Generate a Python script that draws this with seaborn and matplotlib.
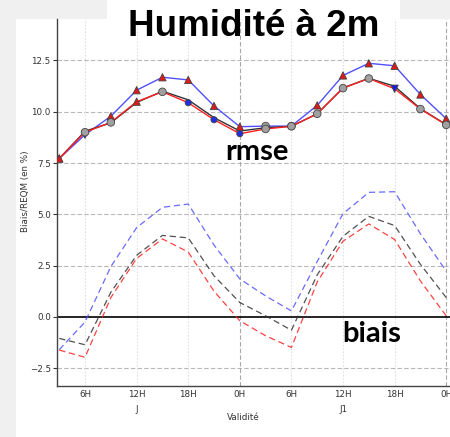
import matplotlib
matplotlib.use("Agg")
import matplotlib.pyplot as plt
from matplotlib.patches import Rectangle
import numpy as np
import pandas as pd
import seaborn as sns

# Forecast lead times (hours) and tick labels
hours = [3, 6, 9, 12, 15, 18, 21, 24, 27, 30, 33, 36, 39, 42, 45, 48]
tick_hours = [6, 12, 18, 24, 30, 36, 42, 48]
tick_labels = ["6H", "12H", "18H", "0H", "6H", "12H", "18H", "0H"]
day_labels = ["J", "J1"]
day_positions = [12, 36]

# RMSE (%) for the three experiments
rmse_blue = [7.72, 8.88, 9.78, 11.05, 11.68, 11.55, 10.28, 9.27,
             9.30, 9.30, 10.31, 11.77, 12.36, 12.24, 10.84, 9.66]
rmse_black = [7.72, 9.05, 9.46, 10.45, 11.00, 10.58, 9.71, 9.06,
              9.22, 9.29, 9.90, 11.16, 11.63, 11.24, 10.15, 9.37]
rmse_red = [7.72, 9.00, 9.48, 10.49, 10.97, 10.44, 9.61, 8.93,
            9.16, 9.29, 9.90, 11.15, 11.62, 11.12, 10.13, 9.36]

# Significance symbols on the blue and red RMSE curves
sig_blue = ["up", "down", "up", "up", "up", "up", "up", "up",
            "ns", "ns", "up", "up", "up", "up", "up", "up"]
sig_red = ["up", "ns", "ns", "up", "ns", "dot", "dot", "dot",
           "ns", "ns", "ns", "ns", "ns", "down", "ns", "ns"]

# Bias (%) for the three experiments
bias_blue = [-1.60, -0.25, 2.45, 4.35, 5.34, 5.50, 3.50, 1.85,
             1.02, 0.29, 2.70, 5.03, 6.07, 6.10, 4.05, 2.23]
bias_black = [-1.05, -1.36, 1.20, 3.00, 3.97, 3.85, 2.00, 0.70,
              0.05, -0.65, 2.05, 3.93, 4.90, 4.45, 2.56, 0.94]
bias_red = [-1.62, -1.97, 0.94, 2.85, 3.80, 3.16, 1.25, -0.19,
            -0.92, -1.49, 1.70, 3.69, 4.53, 3.77, 1.75, 0.05]

sns.set_style("ticks")
plt.rcParams["font.family"] = ["DejaVu Sans"]

colors = {"blue": "#5050ff", "black": "#333333", "red": "#ff2020"}

rmse_df = pd.DataFrame({
    "h": hours * 3,
    "v": rmse_blue + rmse_black + rmse_red,
    "exp": ["blue"] * 16 + ["black"] * 16 + ["red"] * 16,
})
bias_df = pd.DataFrame({
    "h": hours * 3,
    "v": bias_blue + bias_black + bias_red,
    "exp": ["blue"] * 16 + ["black"] * 16 + ["red"] * 16,
})
sig_df = pd.DataFrame({
    "h": hours * 2,
    "v": rmse_blue + rmse_red,
    "sig": sig_blue + sig_red,
})

fig = plt.figure(figsize=(4.5, 4.37), dpi=100, facecolor="#f0f0f0")
W, H = 450, 437
# white panel and title box
fig.patches.append(Rectangle((16 / W, 0), 1 - 16 / W, (H - 19) / H,
                             transform=fig.transFigure, facecolor="white",
                             edgecolor="none", zorder=-2))
fig.patches.append(Rectangle((107 / W, (H - 42) / H), (400 - 107) / W, 42 / H,
                             transform=fig.transFigure, facecolor="white",
                             edgecolor="none", zorder=-2))

ax = fig.add_axes([57 / W, (H - 386) / H, (450 - 57) / W, (386 - 19) / H])
ax.set_facecolor("white")
ax.patch.set_alpha(0.0)

# grid
for yv in [-2.5, 2.5, 5.0, 7.5, 10.0, 12.5]:
    ax.axhline(yv, color="#b8b8b8", lw=0.8, ls=(0, (4, 2)), zorder=0)
for xv in tick_hours:
    if xv % 24 == 0:
        ax.axvline(xv, color="#a8a8a8", lw=0.8, ls=(0, (4, 2)), zorder=0)
    else:
        ax.axvline(xv, color="#e0e0e0", lw=0.8, ls=(0, (1.5, 1.5)), zorder=0)
ax.axhline(0.0, color="black", lw=1.2, zorder=1)

# bias: dashed
sns.lineplot(data=bias_df, x="h", y="v", hue="exp", palette=colors,
             hue_order=["blue", "black", "red"], ax=ax, legend=False,
             lw=0.9, zorder=2)
for line in ax.lines[-3:]:
    line.set_linestyle((0, (5, 3)))
    line.set_alpha(0.85)

# rmse: solid
sns.lineplot(data=rmse_df, x="h", y="v", hue="exp", palette=colors,
             hue_order=["blue", "black", "red"], ax=ax, legend=False,
             lw=1.0, zorder=3)

sig_colors = {"up": "#e01818", "down": "#1a1ae0", "ns": "#a0a0a0", "dot": "#2030e0"}
sig_markers = {"up": "^", "down": "v", "ns": "o", "dot": "o"}
sig_sizes = {"up": 28, "down": 28, "ns": 30, "dot": 20}
sns.scatterplot(data=sig_df, x="h", y="v", hue="sig", style="sig", size="sig",
                palette=sig_colors, markers=sig_markers, sizes=sig_sizes,
                edgecolor="#444444", linewidth=0.6, ax=ax, legend=False,
                zorder=4)

ax.set_xlim(2.74, 48.44)
ax.set_ylim(-3.37, 14.52)
ax.set_yticks([-2.5, 0.0, 2.5, 5.0, 7.5, 10.0, 12.5])
ax.set_yticklabels(["\u22122.5", "0.0", "2.5", "5.0", "7.5", "10.0", "12.5"])
ax.set_xticks(tick_hours)
ax.set_xticklabels(tick_labels)
ax.tick_params(labelsize=6.3, colors="#333333", length=3, width=0.8, pad=1.5)
ax.tick_params(axis="x", length=0, pad=3)
for s in ["top", "right"]:
    ax.spines[s].set_visible(False)
for s in ["left", "bottom"]:
    ax.spines[s].set_color("#444444")
    ax.spines[s].set_linewidth(1.0)

ax.set_xlabel("")
ax.set_ylabel("Biais/REQM (en %)", fontsize=6.3, color="#333333")
ax.yaxis.set_label_coords(-0.069, 0.53)
for lab, pos in zip(day_labels, day_positions):
    ax.annotate(lab, xy=(pos, 0), xycoords=("data", "axes fraction"),
                xytext=(0, -17), textcoords="offset points", ha="center",
                va="center", fontsize=6.3, color="#333333")
ax.annotate("Validité", xy=(0.473, 0), xycoords="axes fraction",
            xytext=(0, -19.5), textcoords="offset points", ha="center",
            va="top", fontsize=6.3, color="#333333")

fig.text(253.5 / W, 1 - 36 / H, "Humidité à 2m", ha="center", va="baseline",
         fontsize=26.5, fontweight="bold", color="black",
         family=["Liberation Sans"])
fig.text(257 / W, 1 - 160 / H, "rmse", ha="center", va="baseline",
         fontsize=21, fontweight="bold", color="black", family=["Lato"])
fig.text(372 / W, 1 - 342 / H, "biais", ha="center", va="baseline",
         fontsize=21, fontweight="bold", color="black", family=["Lato"])

fig.savefig("out.png", dpi=100, facecolor=fig.get_facecolor())
